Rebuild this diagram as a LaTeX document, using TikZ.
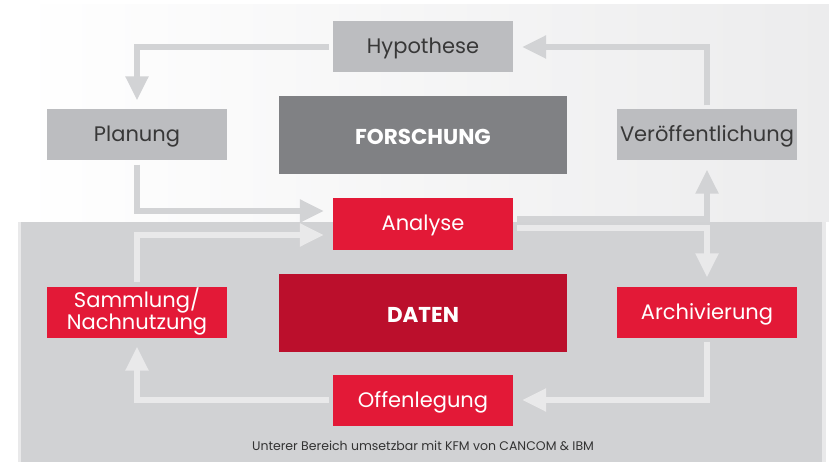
\documentclass[tikz,border=0pt]{standalone}
\usepackage{fontspec}
\setmainfont{Poppins}
\usetikzlibrary{arrows.meta}
\usepackage{xcolor}
\definecolor{kfmred}{HTML}{E31937}
\definecolor{kfmdark}{HTML}{BB0F2C}
\definecolor{kfmgray}{HTML}{808184}
\definecolor{kfmlight}{HTML}{BCBDC0}
\definecolor{kfmback}{HTML}{D1D2D4}
\definecolor{kfmtop}{HTML}{ECECED}
\definecolor{kfmarrow}{HTML}{D2D3D5}
\definecolor{kfmarrowlow}{HTML}{E9E9EA}

\begin{document}
\begin{tikzpicture}[x=1pt,y=-1pt,
  box/.style={minimum width=180pt,minimum height=51pt,inner sep=0pt,text height=18pt,text depth=4pt,font=\fontsize{21}{21}\selectfont},
  greybox/.style={box,fill=kfmlight,text=black!78},
  redbox/.style={box,fill=kfmred,text=white},
  bigbox/.style={minimum width=288pt,minimum height=78pt,inner sep=0pt,text height=20pt,text depth=1pt,text=white,font=\fontsize{21.5}{22}\selectfont\bfseries},
  flow/.style={line width=5.5pt,draw=kfmarrow,shorten <=4pt,shorten >=9pt,-{Triangle[width=22pt,length=24pt]}},
  flowlow/.style={flow,draw=kfmarrowlow}]
\useasboundingbox (0,0) rectangle (829,462);
\shade[shading angle=80,left color=white,right color=kfmtop] (18,5) rectangle (829,222);
\fill[kfmback] (18,222) rectangle (822,462);
\fill[kfmarrowlow] (18,222) rectangle (21,462);
\fill[kfmarrowlow] (822,222) rectangle (826,462);

\node[greybox] (hyp) at (423,47) {Hypothese};
\node[greybox] (plan) at (137,135) {Planung};
\node[greybox] (pub) at (707,135) {Veröffentlichung};
\node[bigbox,fill=kfmgray] (res) at (423,135) {FORSCHUNG};
\node[redbox] (ana) at (423,224) {Analyse};
\node[redbox,align=center,text height=39pt] (col) at (137,312) {Sammlung/\\Nachnutzung};
\node[redbox] (arc) at (707,312) {Archivierung};
\node[redbox] (off) at (423,400) {Offenlegung};
\node[bigbox,fill=kfmdark] (dat) at (423,313) {DATEN};
\node[text=black!80,font=\fontsize{12.5}{14}\selectfont] (note) at (423,446) {Unterer Bereich umsetzbar mit KFM von CANCOM \& IBM};

\draw[flow] (hyp.west) -| (plan.north);
\draw[flow] (plan.south) |- ([yshift=13pt]ana.west);
\draw[flow] ([yshift=5pt]ana.east) -| (pub.south);
\draw[flow] (pub.north) |- (hyp.east);
\draw[flowlow] (col.north) |- ([yshift=-11pt]ana.west);
\draw[flowlow] ([yshift=-4pt]ana.east) -| (arc.north);
\draw[flowlow] (arc.south) |- (off.east);
\draw[flowlow] (off.west) -| (col.south);
\end{tikzpicture}
\end{document}
